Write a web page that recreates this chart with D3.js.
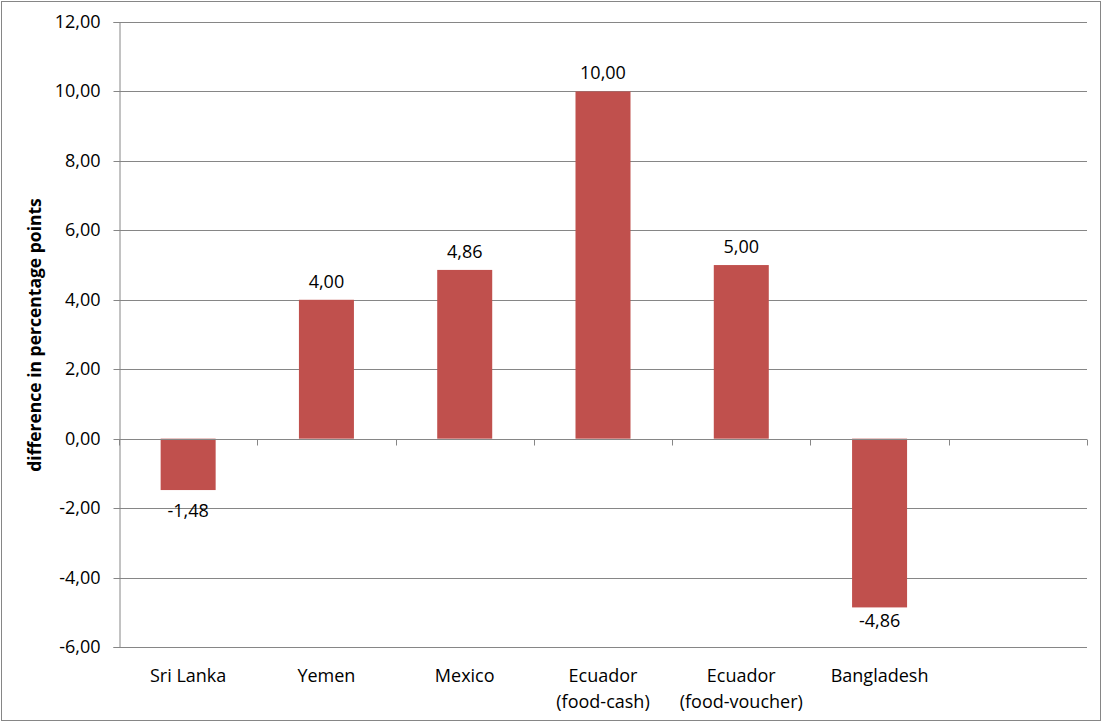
<!DOCTYPE html>
<html>
<head>
<meta charset="utf-8">
<script src="https://cdn.jsdelivr.net/npm/d3@7"></script>
<style>
  body { margin: 0; background: #fff; }
  text { font-family: "Open Sans", "Liberation Sans", sans-serif; fill: #000; }
</style>
</head>
<body>
<svg id="chart" width="1102" height="722"></svg>
<script>
// Categories (last slot left empty) and values in percentage points
const categories = ["Sri Lanka", "Yemen", "Mexico", "Ecuador\n(food-cash)", "Ecuador\n(food-voucher)", "Bangladesh", ""];
const values = [-1.48, 4.00, 4.86, 10.00, 5.00, -4.86, null];
const yTicks = [-6, -4, -2, 0, 2, 4, 6, 8, 10, 12];
const yTitle = "difference in percentage points";

const W = 1102, H = 722;
const margin = { top: 22, right: 15, bottom: 75, left: 119 };
const FS = 18;
const svg = d3.select("#chart");

// outer chart border
svg.append("rect").attr("x", 1.5).attr("y", 1.5).attr("width", W - 3).attr("height", H - 3)
  .attr("fill", "#fff").attr("stroke", "#868686").attr("stroke-width", 1);

const xStep = (W - margin.right - margin.left) / categories.length;
const xc = i => margin.left + xStep * (i + 0.5);
const y = d3.scaleLinear().domain([-6, 12]).range([H - margin.bottom, margin.top]);

const fmt = v => v.toFixed(2).replace(".", ",");

// horizontal gridlines
svg.append("g").selectAll("line").data(yTicks).join("line")
  .attr("x1", margin.left).attr("x2", W - margin.right)
  .attr("y1", d => Math.round(y(d)) + 0.5).attr("y2", d => Math.round(y(d)) + 0.5)
  .attr("stroke", "#868686").attr("stroke-width", 1);

// y axis
const yAxis = svg.append("g").attr("transform", `translate(${margin.left + 0.5},0)`)
  .call(d3.axisLeft(y).tickValues(yTicks).tickFormat(fmt).tickSize(6).tickPadding(13));
yAxis.select(".domain").attr("stroke", "#868686");
yAxis.selectAll(".tick line").attr("stroke", "#868686");
yAxis.selectAll(".tick text").attr("font-size", FS).attr("fill", "#000")
  .attr("font-family", "'Open Sans', sans-serif");
yAxis.selectAll(".tick").attr("transform", d => `translate(0,${Math.round(y(d)) + 0.5})`);

// bars
const bw = 55;
const pts = values.map((v, i) => ({ v, i })).filter(d => d.v !== null);
svg.append("g").selectAll("rect").data(pts)
  .join("rect")
  .attr("x", d => xc(d.i) - bw / 2)
  .attr("width", bw)
  .attr("y", d => y(Math.max(0, d.v)))
  .attr("height", d => Math.abs(y(d.v) - y(0)))
  .attr("fill", "#C0504D");

// x axis line at zero with category boundary ticks
const y0 = Math.round(y(0)) + 0.5;
svg.append("line").attr("x1", margin.left).attr("x2", W - margin.right)
  .attr("y1", y0).attr("y2", y0).attr("stroke", "#868686");
svg.append("g").selectAll("line").data(d3.range(categories.length + 1)).join("line")
  .attr("x1", i => Math.round(margin.left + xStep * i) + 0.5)
  .attr("x2", i => Math.round(margin.left + xStep * i) + 0.5)
  .attr("y1", y0).attr("y2", y0 + 6).attr("stroke", "#868686");

// value labels: above positive bars, below negative ones (kept inside the plot)
svg.append("g").selectAll("text").data(pts)
  .join("text")
  .attr("x", d => xc(d.i))
  .attr("y", d => d.v >= 0 ? y(d.v) - 12 : Math.min(y(d.v) + 27, y(-6) - 20))
  .attr("text-anchor", "middle").attr("font-size", FS)
  .text(d => fmt(d.v));

// category labels (below plot)
const cat = svg.append("g");
categories.forEach((c, i) => {
  const t = cat.append("text").attr("x", xc(i)).attr("y", 682)
    .attr("text-anchor", "middle").attr("font-size", FS);
  c.split("\n").forEach((l, k) => t.append("tspan").attr("x", xc(i))
    .attr("dy", k === 0 ? 0 : 26).text(l));
});

// y axis title
svg.append("text").attr("transform", `translate(41,${(198 + 472) / 2}) rotate(-90)`)
  .attr("text-anchor", "middle").attr("font-size", 17.5).attr("font-weight", "bold")
  .text(yTitle);
</script>
</body>
</html>
